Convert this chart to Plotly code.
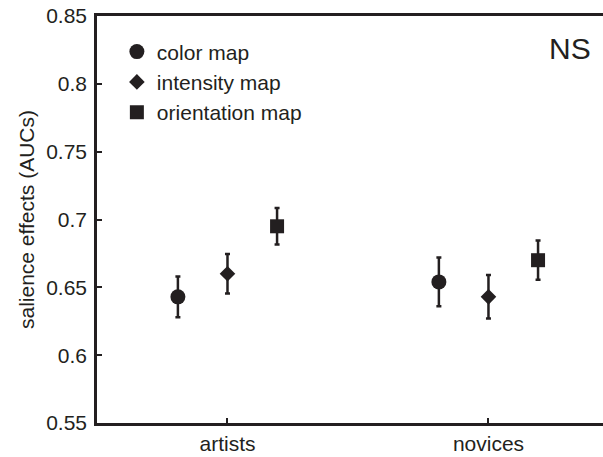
import plotly.graph_objects as go

groups = ["artists", "novices"]
group_pos = [1, 2]
series_names = ["color map", "intensity map", "orientation map"]
symbols = ["circle", "diamond", "square"]
offsets = [-0.19, 0.0, 0.19]

means = {
    "color map": [0.643, 0.654],
    "intensity map": [0.660, 0.643],
    "orientation map": [0.695, 0.670],
}
errors = {
    "color map": [0.015, 0.018],
    "intensity map": [0.0145, 0.016],
    "orientation map": [0.0135, 0.0145],
}

ytick_vals = [0.55, 0.6, 0.65, 0.7, 0.75, 0.8, 0.85]
ytick_text = ["0.55", "0.6", "0.65", "0.7", "0.75", "0.8", "0.85"]

ink = "#231f20"
font_family = "Liberation Sans, Arial, sans-serif"

fig = go.Figure()
sizes = [15, 12, 14]
for name, sym, off, sz in zip(series_names, symbols, offsets, sizes):
    fig.add_trace(go.Scatter(
        x=[g + off for g in group_pos],
        y=means[name],
        mode="markers",
        name=name,
        legendgroup=name,
        marker=dict(symbol=sym, size=sz, color=ink, line=dict(width=0)),
        error_y=dict(type="data", array=errors[name], visible=True,
                     color=ink, thickness=2.5, width=2.5),
    ))

# plot area extends slightly past the 603px window on the right (as in the reference)
fig.add_annotation(x=(593 - 97) / (620 - 97), y=0.92, xref="paper", yref="paper",
                   text="NS", showarrow=False, xanchor="right", yanchor="middle",
                   font=dict(size=30, color=ink, family=font_family))

fig.update_layout(
    width=620, height=457,
    margin=dict(l=97, r=0, t=16, b=34),
    paper_bgcolor="white", plot_bgcolor="white",
    font=dict(family=font_family, color=ink, size=21),
    showlegend=True,
    legend=dict(x=0.038, y=0.962, xanchor="left", yanchor="top",
                bgcolor="rgba(0,0,0,0)", font=dict(size=21, color=ink),
                traceorder="grouped", tracegroupgap=0, itemsizing="trace"),
    xaxis=dict(range=[0.5, 2.504], tickvals=group_pos, ticktext=groups,
               ticks="inside", ticklen=5, tickwidth=2, tickcolor=ink,
               showline=True, linewidth=2.5, linecolor=ink, mirror=True,
               showgrid=False, zeroline=False, tickfont=dict(size=21)),
    yaxis=dict(range=[0.55, 0.85], tickvals=ytick_vals, ticktext=ytick_text,
               ticks="inside", ticklen=5, tickwidth=2, tickcolor=ink,
               ticklabelstandoff=3,
               showline=True, linewidth=2.5, linecolor=ink, mirror=False,
               showgrid=False, zeroline=False, tickfont=dict(size=21),
               title=dict(text="salience effects (AUCs)", font=dict(size=21), standoff=6)),
)

fig.write_html("out.html", config={"displayModeBar": False},
               post_script="document.body.style.margin='0';document.body.style.overflow='hidden';")
